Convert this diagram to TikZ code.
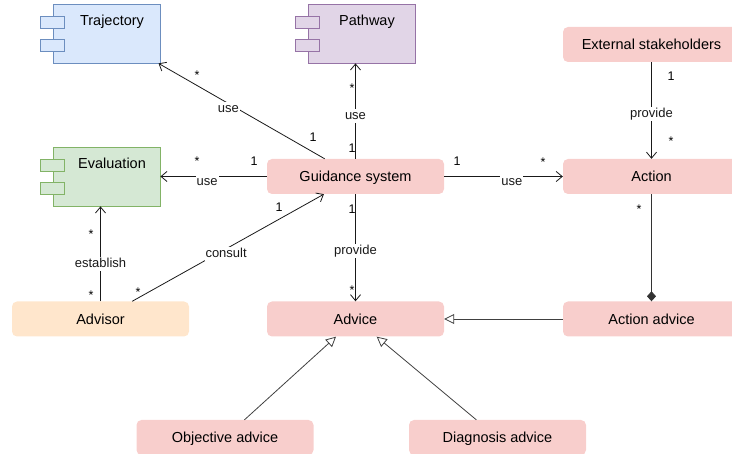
\documentclass[tikz,border=0pt]{standalone}
\usepackage{fontspec}
\setmainfont{Liberation Sans}
\usepackage{xcolor}
\usepackage{tikz}
\usetikzlibrary{positioning}
\usetikzlibrary{arrows.meta,shapes}
\definecolor{pinkfill}{HTML}{F8CECC}
\definecolor{orangefill}{HTML}{FFE6CC}
\definecolor{bluefill}{HTML}{DAE8FC}
\definecolor{blueline}{HTML}{6C8EBF}
\definecolor{purplefill}{HTML}{E1D5E7}
\definecolor{purpleline}{HTML}{9673A6}
\definecolor{greenfill}{HTML}{D5E8D4}
\definecolor{greenline}{HTML}{82B366}
\tikzstyle{box}=[rectangle,rounded corners=5pt,minimum width=177pt,minimum height=35pt,inner sep=0pt,text height=10.4pt,text depth=0pt,font=\fontsize{14.5}{17}\selectfont]
\tikzstyle{comp}=[rectangle,minimum width=107pt,minimum height=59pt,inner sep=0pt,line width=0.8pt]
\tikzstyle{tab}=[rectangle,minimum width=24pt,minimum height=12pt,inner sep=0pt,line width=0.8pt]
\tikzstyle{complabel}=[anchor=base,inner sep=0pt,font=\fontsize{14.5}{17}\selectfont]
\tikzstyle{useedge}=[draw,line width=0.8pt,black!90,-{Straight Barb[length=6pt,width=10pt]}]
\tikzstyle{genedge}=[draw,line width=0.8pt,black!75,-{Triangle[open,length=10pt,width=10pt,fill=white]}]
\tikzstyle{compedge}=[draw,line width=0.8pt,black!80,-{Diamond[length=10pt,width=9pt]}]
\tikzstyle{weight}=[font=\fontsize{13}{15}\selectfont,fill=white,inner sep=1pt,text height=9.5pt,text depth=2.5pt,yshift=-5.5pt]
\tikzstyle{mult}=[font=\fontsize{12.5}{14}\selectfont,inner sep=0pt,text height=9pt,text depth=0pt]

\begin{document}
\begin{tikzpicture}[x=1pt,y=-1pt]

 \useasboundingbox (0,0) rectangle (732,454);

 %Components
 \foreach \x/\y/\name/\label/\fcol/\dcol in {106.5/33.5/traj/Trajectory/bluefill/blueline, 361.5/33.5/path/Pathway/purplefill/purpleline, 106.5/176.5/eval/Evaluation/greenfill/greenline}
 {
  \node[comp,fill=\fcol,draw=\dcol] (\name) at (\x,\y) {};
  \node[tab,fill=\fcol,draw=\dcol] (\name-a) at ([yshift=11.5pt]\name.west) {};
  \node[tab,fill=\fcol,draw=\dcol] (\name-b) at ([yshift=-12pt]\name.west) {};
  \node[complabel] (\name-t) at (\x+5.5,\y-7.5) {\label};
 }

 %Classes
 \foreach \x/\y/\name/\label in {355.5/176.5/guid/Guidance system, 355.5/319/advice/Advice, 651.5/44.5/ext/External stakeholders, 651.5/176.5/action/Action, 651.5/319/actadv/Action advice, 225/437.5/objadv/Objective advice, 497.5/437.5/diagadv/Diagnosis advice}
  \node[box,fill=pinkfill] (\name) at (\x,\y) {\label};

 \node[box,fill=orangefill] (advisor) at (100.5,319) {Advisor};

 %Associations
 \foreach \source/\dest/\where/\weight in {guid/traj/.58/use, guid/guid |- path.south/.51/use, guid/eval/.56/use, guid/action/.57/use, guid/advice/.48/provide, advisor/guid/.49/consult, advisor/advisor |- eval.south/.45/establish, ext/action/.48/provide}
  \path[useedge] (\source) -- node[weight,pos=\where] {\weight} (\dest);

 \path[compedge] (action) -- (actadv);

 \foreach \source/\dest in {actadv/advice, objadv/advice, diagadv/advice}
  \path[genedge] (\source) -- (\dest);

 %Multiplicities
 \foreach \x/\y/\name/\label in {197/74.7/m1/*, 313/137/m2/1, 352/87.7/m3/*, 352/148/m4/1, 197/160.7/m5/*, 254/161/m6/1, 457/161/m7/1, 543/161.7/m8/*, 352/209/m9/1, 352/289.7/m10/*, 138/291.7/m11/*, 279/207/m12/1, 91/233.7/m13/*, 91/294.7/m14/*, 671/76/m15/1, 671/140.7/m16/*, 639/208.7/m17/*}
  \node[mult] (\name) at (\x,\y) {\label};

\end{tikzpicture}
\end{document}
